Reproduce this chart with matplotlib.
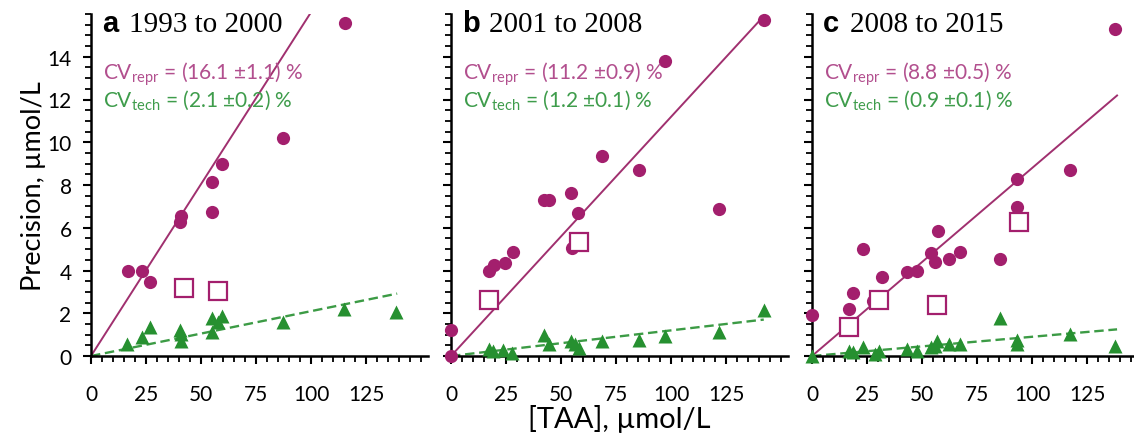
import numpy as np
import matplotlib
matplotlib.use("Agg")
import matplotlib.pyplot as plt
from matplotlib.ticker import MultipleLocator

plt.rcParams['font.family'] = ['Lato', 'DejaVu Sans']
plt.rcParams['mathtext.fontset'] = 'custom'
plt.rcParams['mathtext.rm'] = 'Lato'
plt.rcParams['mathtext.it'] = 'Lato:italic'

# panel titles
letters = ["a", "b", "c"]
periods = ["1993 to 2000", "2001 to 2008", "2008 to 2015"]

# fitted CV values (slope of line through origin, in %)
cv_repr = [16.1, 11.2, 8.8]
cv_repr_err = [1.1, 0.9, 0.5]
cv_tech = [2.1, 1.2, 0.9]
cv_tech_err = [0.2, 0.1, 0.1]
fit_end = [139, 142, 138.5]

# panel a
a_repr_x = [17, 23, 27, 40.5, 41, 55, 55, 59.5, 87, 115.5]
a_repr_y = [4.0, 4.0, 3.45, 6.25, 6.55, 6.75, 8.15, 9.0, 10.2, 15.6]
a_tech_x = [16.5, 23, 27, 40.5, 41, 41, 55, 55, 57.5, 59.5, 87, 115, 138.5]
a_tech_y = [0.56, 0.9, 1.38, 1.2, 1.03, 0.72, 1.78, 1.12, 1.6, 1.88, 1.58, 2.18, 2.07]
a_open_x = [42, 57.8]
a_open_y = [3.2, 3.05]

# panel b
b_repr_x = [0, 0, 17.4, 19.5, 24.5, 28.3, 42, 44.5, 54.4, 54.8, 57.7, 68.5, 85.2, 97, 121.5, 142]
b_repr_y = [1.2, 0.0, 4.0, 4.27, 4.33, 4.88, 7.3, 7.32, 7.62, 5.05, 6.71, 9.36, 8.71, 13.8, 6.9, 15.7]
b_tech_x = [17.3, 19, 23.8, 27.6, 42, 44.7, 54.4, 56.4, 57.9, 68.5, 85.2, 97, 121.5, 142]
b_tech_y = [0.33, 0.25, 0.3, 0.12, 0.98, 0.56, 0.7, 0.56, 0.39, 0.7, 0.76, 0.95, 1.1, 2.16]
b_open_x = [17.3, 58]
b_open_y = [2.6, 5.35]

# panel c
c_repr_x = [0, 16.8, 18.8, 23.3, 27.9, 31.7, 43.3, 47.6, 54.1, 55.9, 57.4, 62.4, 67.3, 85.2, 93, 93, 117, 137.7]
c_repr_y = [1.92, 2.2, 2.94, 5.0, 2.58, 3.68, 3.91, 3.99, 4.81, 4.38, 5.83, 4.56, 4.88, 4.56, 6.99, 8.27, 8.71, 15.3]
c_tech_x = [0, 17, 18.8, 23.3, 28.6, 30.6, 43.3, 47.6, 54.1, 55.9, 56.7, 62.4, 67.3, 85.2, 93, 93, 117, 137.7]
c_tech_y = [0, 0.25, 0.2, 0.44, 0.1, 0.25, 0.33, 0.25, 0.4, 0.48, 0.7, 0.56, 0.56, 1.76, 0.76, 0.56, 1.03, 0.45]
c_open_x = [17, 30.6, 56.7, 93.8]
c_open_y = [1.34, 2.63, 2.38, 6.28]

repr_x = [a_repr_x, b_repr_x, c_repr_x]
repr_y = [a_repr_y, b_repr_y, c_repr_y]
tech_x = [a_tech_x, b_tech_x, c_tech_x]
tech_y = [a_tech_y, b_tech_y, c_tech_y]
open_x = [a_open_x, b_open_x, c_open_x]
open_y = [a_open_y, b_open_y, c_open_y]

mag = '#A31F6D'
mag_line = '#A0306F'
mag_text = '#B24F8E'
grn = '#269030'
grn_line = '#3C9B45'
grn_text = '#3E9C4B'

W, H = 1134, 435
fig = plt.figure(figsize=(W / 100, H / 100), dpi=100)

lefts = [91, 451, 812]
for i in range(3):
    ax = fig.add_axes([lefts[i] / W, 78 / H, 337 / W, 342 / H])
    ax.set_xlim(0, 153)
    ax.set_ylim(0, 16)

    xs = np.array([0, fit_end[i]])
    ax.plot(xs, xs * cv_repr[i] / 100, color=mag_line, lw=1.4, zorder=2)
    ax.plot(xs, xs * cv_tech[i] / 100, color=grn_line, lw=1.7, ls=(0, (4, 2)), zorder=2)

    ax.plot(repr_x[i], repr_y[i], 'o', color=mag, ms=9.5, mec='none', zorder=3, clip_on=False)
    ax.plot(tech_x[i], tech_y[i], '^', color=grn, ms=9.5, mec='none', zorder=3, clip_on=False)
    ax.plot(open_x[i], open_y[i], 's', mfc='white', mec=mag, mew=1.6, ms=12.5, zorder=4, clip_on=False)

    for side in ['top', 'right']:
        ax.spines[side].set_visible(False)
    for side in ['left', 'bottom']:
        ax.spines[side].set_linewidth(1.8)

    ax.set_xticks([0, 25, 50, 75, 100, 125])
    ax.xaxis.set_minor_locator(MultipleLocator(5))
    ax.set_yticks([0, 2, 4, 6, 8, 10, 12, 14])
    ax.yaxis.set_minor_locator(MultipleLocator(0.5))
    ax.tick_params(which='major', length=6, width=1.5, labelsize=15, direction='out')
    ax.tick_params(which='minor', length=4, width=1.3, direction='out')
    ax.tick_params(axis='x', pad=14)
    ax.tick_params(axis='y', pad=8)
    if i > 0:
        ax.set_yticklabels([])
    else:
        ax.set_ylabel('Precision, µmol/L', fontsize=19.5, labelpad=1)
    if i == 1:
        ax.set_xlabel('[TAA], µmol/L', fontsize=21, labelpad=0)

    ax.annotate(letters[i], xy=(0, 1), xycoords='axes fraction', xytext=(11, -17),
                textcoords='offset pixels', fontsize=21, fontweight='bold',
                family='Liberation Sans', va='baseline', ha='left')
    ax.annotate(periods[i], xy=(0, 1), xycoords='axes fraction', xytext=(38, -17),
                textcoords='offset pixels', fontsize=21,
                family='Liberation Serif', va='baseline', ha='left')
    ax.annotate(r'CV$_{\mathrm{repr}}$ = (%s ±%s) %%' % (cv_repr[i], cv_repr_err[i]),
                xy=(0, 1), xycoords='axes fraction', xytext=(12, -65),
                textcoords='offset pixels', fontsize=15, color=mag_text,
                va='baseline', ha='left')
    ax.annotate(r'CV$_{\mathrm{tech}}$ = (%s ±%s) %%' % (cv_tech[i], cv_tech_err[i]),
                xy=(0, 1), xycoords='axes fraction', xytext=(12, -92),
                textcoords='offset pixels', fontsize=15, color=grn_text,
                va='baseline', ha='left')

fig.savefig('out.png', dpi=100)
